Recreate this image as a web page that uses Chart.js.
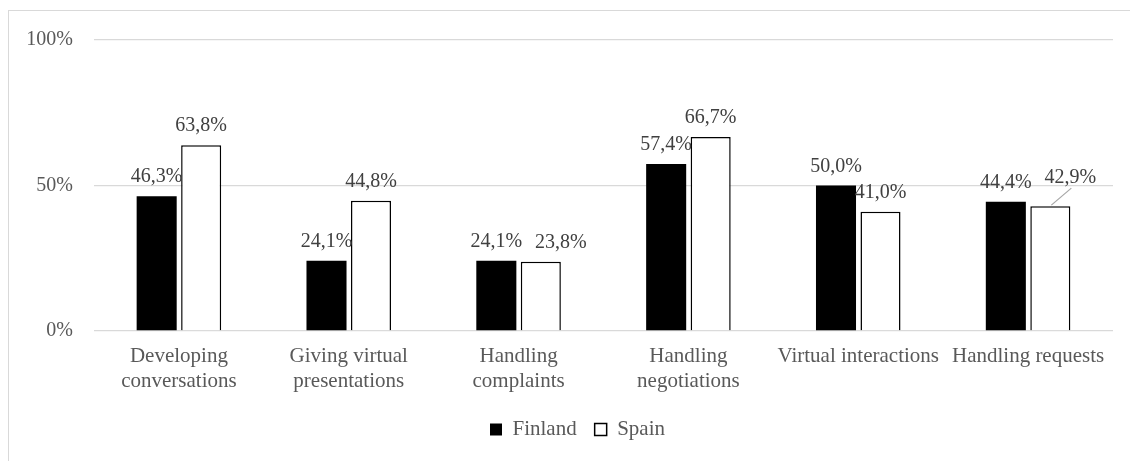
<!DOCTYPE html>
<html>
<head>
<meta charset="utf-8">
<script src="https://cdn.jsdelivr.net/npm/chart.js@4.4.0/dist/chart.umd.min.js"></script>
<style>
  html, body { margin: 0; padding: 0; background: #fff; overflow: hidden; }
  #frame { position: absolute; left: 8px; top: 10px; width: 1200px; height: 500px; border: 1px solid #d9d9d9; }
  #wrap { position: absolute; left: 0; top: 0; width: 1130px; height: 461px; }
</style>
</head>
<body>
<div id="frame"></div>
<div id="wrap"><canvas id="chart"></canvas></div>
<script>
const categories = [
  ["Developing", "conversations"],
  ["Giving virtual", "presentations"],
  ["Handling", "complaints"],
  ["Handling", "negotiations"],
  "Virtual interactions",
  "Handling requests"
];
const finland = [46.3, 24.1, 24.1, 57.4, 50.0, 44.4];
const spain = [63.8, 44.8, 23.8, 66.7, 41.0, 42.9];
const yTicks = [0, 50, 100];

const FONT = "'Liberation Serif', 'Times New Roman', serif";

//Value labels drawn above each bar
const barLabels = {
  id: "barLabels",
  afterDatasetsDraw(chart, args, opts) {
    const ctx = chart.ctx;
    ctx.save();
    ctx.font = `20px ${FONT}`;
    ctx.fillStyle = "#404040";
    ctx.textAlign = "center";
    ctx.textBaseline = "alphabetic";
    chart.data.datasets.forEach((ds, di) => {
      const meta = chart.getDatasetMeta(di);
      meta.data.forEach((bar, i) => {
        const shift = (opts.shift[di] && opts.shift[di][i]) || [0, 0];
        const x = bar.x + shift[0];
        const y = bar.y - 14 + shift[1];
        const text = ds.data[i].toFixed(1).replace(".", ",") + "%";
        if (shift[1] !== 0) {
          //leader line back to the bar
          ctx.strokeStyle = "#a6a6a6";
          ctx.lineWidth = 1.2;
          ctx.beginPath();
          ctx.moveTo(bar.x + 1, bar.y - 1);
          ctx.lineTo(x + 1, y + 5);
          ctx.stroke();
        }
        ctx.fillText(text, x, y);
      });
    });
    ctx.restore();
  }
};

//Nudge the legend to the right, like the original
const legendShift = {
  id: "legendShift",
  afterLayout(chart, args, opts) {
    chart.legend.left += opts.dx;
    chart.legend.right += opts.dx;
  }
};

new Chart(document.getElementById("chart"), {
  type: "bar",
  data: {
    labels: categories,
    datasets: [
      {
        label: "Finland",
        data: finland,
        backgroundColor: "#000000",
        borderColor: "#000000",
        borderWidth: 0
      },
      {
        label: "Spain",
        data: spain,
        backgroundColor: "#ffffff",
        borderColor: "#000000",
        borderWidth: 1.5
      }
    ]
  },
  options: {
    responsive: true,
    maintainAspectRatio: false,
    animation: false,
    datasets: {
      bar: { categoryPercentage: 0.524, barPercentage: 0.9 }
    },
    layout: { padding: { top: 40, right: 17, bottom: 11, left: 22 } },
    plugins: {
      tooltip: { enabled: false },
      barLabels: { shift: { 1: { 2: [20, 0], 5: [20, -9] } } },
      legendShift: { dx: 10 },
      legend: {
        position: "bottom",
        labels: {
          font: { family: FONT, size: 21 },
          color: "#595959",
          boxWidth: 12,
          boxHeight: 12,
          padding: 18,
          useBorderRadius: false
        }
      }
    },
    scales: {
      x: {
        grid: { display: false, drawTicks: false },
        border: { display: false },
        ticks: {
          font: { family: FONT, size: 21 },
          color: "#595959",
          padding: 13,
          maxRotation: 0,
          autoSkip: false
        },
        afterFit: (axis) => { axis.height = 70; }
      },
      y: {
        min: 0,
        max: 100,
        afterBuildTicks: (axis) => { axis.ticks = yTicks.map((v) => ({ value: v })); },
        grid: { color: "#d9d9d9", lineWidth: 1.3, drawTicks: false },
        border: { display: false },
        ticks: {
          font: { family: FONT, size: 20 },
          color: "#595959",
          padding: 21,
          callback: (v) => v + "%"
        },
        afterFit: (axis) => { axis.width = 72; }
      }
    }
  },
  plugins: [barLabels, legendShift]
});
</script>
</body>
</html>
